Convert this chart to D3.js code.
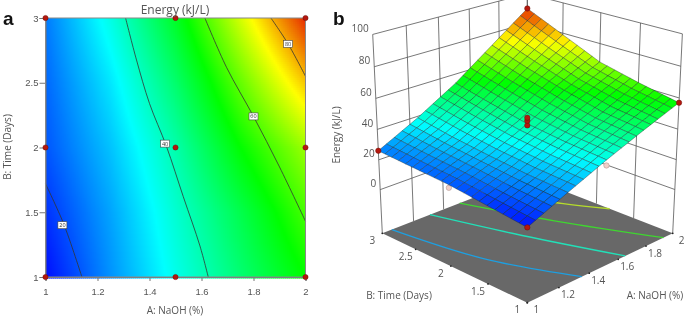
<!DOCTYPE html>
<html>
<head>
<meta charset="utf-8">
<script src="https://cdn.jsdelivr.net/npm/d3@7"></script>
<style>
  html, body { margin: 0; padding: 0; background: #fff; overflow: hidden; }
  svg { display: block; filter: blur(0.35px); font-family: "Open Sans", sans-serif; }
</style>
</head>
<body>
<svg id="chart" width="685" height="317"></svg>
<script>
// Values

const naohLevels = [1, 1.25, 1.5, 1.75, 2];
const timeLevels = [1, 1.5, 2, 2.5, 3];
// energy[time index][naoh index]
const energyRow1 = [17, 28, 38.5, 48, 57];
const energyRow2 = [20, 29.5, 40.5, 51, 62];
const energyRow3 = [23, 32, 43.5, 57, 68];
const energyRow4 = [24.5, 35, 48.5, 64, 79];
const energyRow5 = [26, 39, 54, 72, 90];
const energy = [energyRow1, energyRow2, energyRow3, energyRow4, energyRow5];

const colorStops = [16, 37, 57, 75, 90];
const colorNames = ['#0000ff', '#00ffff', '#00ff00', '#ffff00', '#e62a00'];

// contour lines of panel a, [naoh, time]
const contour20 = [[1, 1.72], [1.07, 1.41], [1.14, 1]];
const contour40 = [[1.308, 3], [1.35, 2.676], [1.40, 2.34], [1.465, 2.01], [1.53, 1.62], [1.594, 1.24], [1.626, 1]];
const contour60 = [[1.613, 3], [1.696, 2.62], [1.8, 2.24], [1.90, 1.85], [2, 1.43]];
const contour80 = [[1.867, 3], [1.933, 2.8], [2, 2.55]];
const contourLabels = [
    { a: 1.065, b: 1.40, text: '20' },
    { a: 1.46, b: 2.03, text: '40' },
    { a: 1.8, b: 2.24, text: '60' },
    { a: 1.933, b: 2.8, text: '80' }
];
const designNaoh = [1, 1.5, 2];
const designTime = [1, 2, 3];

// floor contours of panel b, [naoh, time]
const floorBlue = [[1.06, 3], [1.16, 1.9], [1.35, 1]];
const floorCyan = [[1.308, 3], [1.465, 2], [1.65, 1]];
const floorGreen = [[1.51, 3], [1.7, 2], [1.93, 1]];
const floorYellow = [[1.7, 3], [1.88, 2.24], [2, 1.82]];

// design points of panel b
const surfacePoints = [[1, 1, 17], [2, 1, 57], [1, 3, 26], [2, 3, 90]];
const centerPoints = [[1.5, 2, 42.5], [1.5, 2, 45.5], [1.5, 2, 47.5]];
const hiddenPoints = [[1, 2, 21], [1.5, 1, 35]];

const naohTicks = [1, 1.2, 1.4, 1.6, 1.8, 2];
const timeTicks = [1, 1.5, 2, 2.5, 3];
const energyTicks = [0, 20, 40, 60, 80, 100];

const svg = d3.select('#chart');
const textColor = '#555';
const red = '#b5170e';

const colorScale = d3.scaleLinear().domain(colorStops).range(colorNames).clamp(true);

// Look up the energy table between its levels
function energyAt(a, b) {
    let i = Math.min(d3.bisectRight(naohLevels, a) - 1, naohLevels.length - 2);
    let j = Math.min(d3.bisectRight(timeLevels, b) - 1, timeLevels.length - 2);
    let s = (a - naohLevels[i]) / (naohLevels[i + 1] - naohLevels[i]);
    let t = (b - timeLevels[j]) / (timeLevels[j + 1] - timeLevels[j]);
    let low = d3.interpolateNumber(energy[j][i], energy[j][i + 1])(s);
    let high = d3.interpolateNumber(energy[j + 1][i], energy[j + 1][i + 1])(s);
    return d3.interpolateNumber(low, high)(t);
}

/* Panel a */

const xA = d3.scaleLinear().domain([1, 2]).range([45.5, 305.5]);
const yA = d3.scaleLinear().domain([1, 3]).range([277, 18]);

const heat = svg.append('g');
const cellStep = 2;
const cells = [];
d3.range(xA(1), xA(2), cellStep).forEach(px => {
    d3.range(yA(3), yA(1), cellStep).forEach(py => {
        cells.push({ px: px, py: py });
    });
});
heat.selectAll('rect').data(cells).join('rect')
    .attr('x', d => d.px)
    .attr('y', d => d.py)
    .attr('width', cellStep + 0.5)
    .attr('height', cellStep + 0.5)
    .attr('fill', d => colorScale(energyAt(xA.invert(d.px + 1), yA.invert(d.py + 1))));

const lineA = d3.line().x(d => xA(d[0])).y(d => yA(d[1])).curve(d3.curveCatmullRom);
[contour20, contour40, contour60, contour80].forEach(c => {
    svg.append('path').datum(c)
        .attr('d', lineA)
        .attr('fill', 'none')
        .attr('stroke', '#333')
        .attr('stroke-width', 0.8);
});

const labelsA = svg.selectAll('.contour-label').data(contourLabels).join('g')
    .attr('class', 'contour-label')
    .attr('transform', d => `translate(${xA(d.a)}, ${yA(d.b)})`);
labelsA.append('rect')
    .attr('x', -4.5).attr('y', -3.5).attr('width', 9).attr('height', 7)
    .attr('fill', '#fff').attr('stroke', '#444').attr('stroke-width', 0.6);
labelsA.append('text')
    .attr('text-anchor', 'middle').attr('y', 2)
    .attr('font-size', 5.5).attr('fill', '#333')
    .text(d => d.text);

const axisX = d3.axisBottom(xA).tickValues(naohTicks).tickSize(4).tickPadding(7).tickFormat(d3.format('~g'));
const axisY = d3.axisLeft(yA).tickValues(timeTicks).tickSize(6).tickPadding(1).tickFormat(d3.format('~g'));
const gx = svg.append('g').attr('transform', `translate(0, ${yA(1)})`).call(axisX);
const gy = svg.append('g').attr('transform', `translate(${xA(1)}, 0)`).call(axisY);
[gx, gy].forEach(g => {
    g.selectAll('text').attr('font-size', 9.5).attr('fill', textColor).attr('font-family', 'inherit');
    g.selectAll('line').attr('stroke', '#777');
    g.select('.domain').attr('stroke', '#777');
});
svg.append('rect')
    .attr('x', xA(1)).attr('y', yA(3))
    .attr('width', xA(2) - xA(1)).attr('height', yA(1) - yA(3))
    .attr('fill', 'none').attr('stroke', '#888').attr('stroke-width', 1);

const designGrid = d3.cross(designNaoh, designTime);
svg.selectAll('.design').data(designGrid).join('circle')
    .attr('class', 'design')
    .attr('cx', d => xA(d[0]))
    .attr('cy', d => yA(d[1]))
    .attr('r', 2.6)
    .attr('fill', red)
    .attr('stroke', '#6b1008')
    .attr('stroke-width', 0.5);

svg.append('text').attr('x', 175).attr('y', 14).attr('text-anchor', 'middle')
    .attr('font-size', 12).attr('fill', textColor).text('Energy (kJ/L)');
svg.append('text').attr('x', 175).attr('y', 314).attr('text-anchor', 'middle')
    .attr('font-size', 10).attr('fill', textColor).text('A: NaOH (%)');
svg.append('text').attr('transform', 'translate(11, 147) rotate(-90)').attr('text-anchor', 'middle')
    .attr('font-size', 10).attr('fill', textColor).text('B: Time (Days)');

/* Panel b: camera set from the corners of the floor */

const floorFront = [527.3, 302.7];
const floorRight = [672.7, 233.3];
const floorBack = [527.3, 176.7];
const floorLeft = [382.3, 233.3];
const vanish = [527, 3233];
const persp = -0.0693;

const uScale = d3.scaleLinear().domain([1, 2]).range([0, 1]);
const vScale = d3.scaleLinear().domain([1, 3]).range([0, 1]);
const zScale = d3.scaleLinear().domain([-30, 100]).range([0, 1]);

const den = (floorRight[0] - floorBack[0]) * (floorLeft[1] - floorBack[1]) - (floorLeft[0] - floorBack[0]) * (floorRight[1] - floorBack[1]);
const sx = floorFront[0] - floorRight[0] + floorBack[0] - floorLeft[0];
const sy = floorFront[1] - floorRight[1] + floorBack[1] - floorLeft[1];
const g1 = (sx * (floorLeft[1] - floorBack[1]) - (floorLeft[0] - floorBack[0]) * sy) / den;
const g2 = ((floorRight[0] - floorBack[0]) * sy - sx * (floorRight[1] - floorBack[1])) / den;

function project(a, b, e) {
    let u = uScale(a), v = vScale(b), z = zScale(e);
    let w = g1 * u + g2 * v + 1 + persp * z;
    let px = (floorRight[0] - floorFront[0] + g1 * floorRight[0]) * u + (floorLeft[0] - floorFront[0] + g2 * floorLeft[0]) * v + floorFront[0] + persp * z * vanish[0];
    let py = (floorRight[1] - floorFront[1] + g1 * floorRight[1]) * u + (floorLeft[1] - floorFront[1] + g2 * floorLeft[1]) * v + floorFront[1] + persp * z * vanish[1];
    return [px / w, py / w];
}

const path3d = d3.line();
const wallColor = '#555';

function wallLine(points) {
    svg.append('path')
        .attr('d', path3d(points.map(p => project(p[0], p[1], p[2]))))
        .attr('fill', 'none')
        .attr('stroke', wallColor)
        .attr('stroke-width', 0.8);
}

// Walls
naohTicks.forEach(a => wallLine([[a, 3, -30], [a, 3, 100]]));
timeTicks.forEach(b => wallLine([[2, b, -30], [2, b, 100]]));
energyTicks.forEach(e => {
    wallLine([[1, 3, e], [2, 3, e]]);
    wallLine([[2, 3, e], [2, 1, e]]);
});

// Floor
svg.append('path')
    .attr('d', path3d([floorFront, floorRight, floorBack, floorLeft]) + 'Z')
    .attr('fill', '#686868');

const floorLine = d3.line().curve(d3.curveCatmullRom);
[[floorBlue, '#1e9fe0'], [floorCyan, '#22e0b8'], [floorGreen, '#3fd630'], [floorYellow, '#b5dc2c']].forEach(f => {
    svg.append('path')
        .attr('d', floorLine(f[0].map(p => project(p[0], p[1], -30))))
        .attr('fill', 'none')
        .attr('stroke', f[1])
        .attr('stroke-width', 1.3);
});

// Floor ticks
const floorTicks = naohTicks.map(a => project(a, 1, -30)).concat(timeTicks.map(b => project(1, b, -30)));
svg.selectAll('.floor-tick').data(floorTicks).join('circle')
    .attr('class', 'floor-tick')
    .attr('cx', d => d[0]).attr('cy', d => d[1]).attr('r', 0.9).attr('fill', '#222');

// Points under the surface
svg.selectAll('.hidden-point').data(hiddenPoints).join('circle')
    .attr('class', 'hidden-point')
    .attr('cx', d => project(d[0], d[1], d[2])[0])
    .attr('cy', d => project(d[0], d[1], d[2])[1])
    .attr('r', 2.7)
    .attr('fill', '#f0cfc8')
    .attr('stroke', '#a98a84')
    .attr('stroke-width', 0.5);

// Surface mesh, back to front
const meshSteps = 20;
const quads = [];
d3.range(meshSteps).forEach(i => {
    d3.range(meshSteps).forEach(j => {
        quads.push({ i: i, j: j });
    });
});
quads.sort((p, q) => (q.i + q.j) - (p.i + p.j));
const meshA = d3.scaleLinear().domain([0, meshSteps]).range([1, 2]);
const meshB = d3.scaleLinear().domain([0, meshSteps]).range([1, 3]);
function meshPoint(i, j) {
    return project(meshA(i), meshB(j), energyAt(meshA(i), meshB(j)));
}
svg.append('g').selectAll('path').data(quads).join('path')
    .attr('d', d => path3d([meshPoint(d.i, d.j), meshPoint(d.i + 1, d.j), meshPoint(d.i + 1, d.j + 1), meshPoint(d.i, d.j + 1)]) + 'Z')
    .attr('fill', d => colorScale(energyAt(meshA(d.i + 0.5), meshB(d.j + 0.5))))
    .attr('stroke', '#1c2a2a')
    .attr('stroke-opacity', 0.75)
    .attr('stroke-width', 0.5);

// Design points on top
svg.selectAll('.surface-point').data(surfacePoints.concat(centerPoints)).join('circle')
    .attr('class', 'surface-point')
    .attr('cx', d => project(d[0], d[1], d[2])[0])
    .attr('cy', d => project(d[0], d[1], d[2])[1])
    .attr('r', 2.7)
    .attr('fill', red)
    .attr('stroke', '#6b1008')
    .attr('stroke-width', 0.5);

// Axis labels
const tickText = (x, y, text) => svg.append('text')
    .attr('x', x).attr('y', y).attr('text-anchor', 'middle')
    .attr('dominant-baseline', 'middle')
    .attr('font-size', 10).attr('fill', textColor).text(text);

naohTicks.forEach(a => {
    let p = project(a, 1, -30);
    tickText(p[0] + 9, p[1] + 8, d3.format('~g')(a));
});
timeTicks.forEach(b => {
    let p = project(1, b, -30);
    tickText(p[0] - 10, p[1] + 8, d3.format('~g')(b));
});
energyTicks.forEach(e => {
    let p = project(1, 3, e);
    svg.append('text')
        .attr('x', p[0] - 4).attr('y', p[1] - 5)
        .attr('text-anchor', 'end').attr('dominant-baseline', 'middle')
        .attr('font-size', 10).attr('fill', textColor).text(e);
});

svg.append('text').attr('transform', 'translate(340, 135) rotate(-90)').attr('text-anchor', 'middle')
    .attr('font-size', 10).attr('fill', textColor).text('Energy (kJ/L)');
svg.append('text').attr('x', 399).attr('y', 299).attr('text-anchor', 'middle')
    .attr('font-size', 10).attr('fill', textColor).text('B: Time (Days)');
svg.append('text').attr('x', 655).attr('y', 299).attr('text-anchor', 'middle')
    .attr('font-size', 10).attr('fill', textColor).text('A: NaOH (%)');

// Panel letters
[['a', 3], ['b', 333]].forEach(l => {
    svg.append('text')
        .attr('x', l[1]).attr('y', 25)
        .attr('font-family', '"Liberation Sans", sans-serif')
        .attr('font-weight', 'bold')
        .attr('font-size', 19)
        .attr('fill', '#111')
        .text(l[0]);
});
</script>
</body>
</html>
